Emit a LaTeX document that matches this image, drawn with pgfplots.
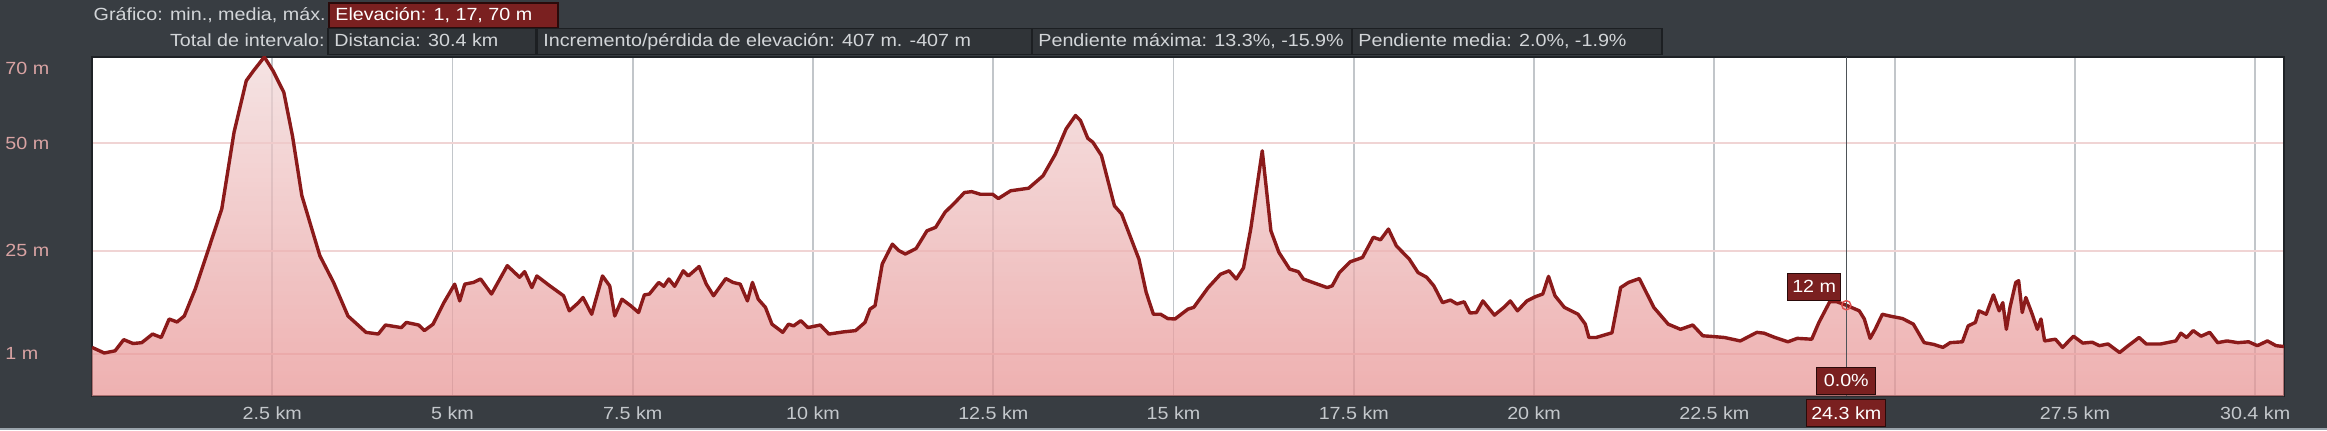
\documentclass[border=0pt]{standalone}
\usepackage{pgfplots}
\pgfplotsset{compat=1.18}
\usepackage{pgfplotstable}
\usepackage{fontspec}
\setmainfont{Liberation Sans}[FakeStretch=1.12]
\definecolor{bg}{HTML}{383D42}
\definecolor{hdrbox}{HTML}{303438}
\definecolor{hdrborder}{HTML}{1C1F22}
\definecolor{boxred}{HTML}{7A2020}
\definecolor{boxredborder}{HTML}{2A0A0A}
\definecolor{hdrtext}{HTML}{D2D5D8}
\definecolor{profline}{HTML}{8B1A1A}
\definecolor{filltop}{HTML}{F1D8D8}
\definecolor{fillbot}{HTML}{E89090}
\definecolor{hgrid}{HTML}{F0D4D4}
\definecolor{vgrid}{HTML}{C2C6CA}
\definecolor{ylab}{HTML}{D9A3A3}
\definecolor{xlab}{HTML}{C4C8CC}
\definecolor{axisborder}{HTML}{1E2226}
\definecolor{markline}{HTML}{4E5358}
\definecolor{markred}{HTML}{E05050}
\definecolor{bottomstrip}{HTML}{9AA4AC}

\pgfplotstableread{
x y
0 -8.8
0 2.5
0.17 1.2
0.32 1.7
0.44 4.3
0.57 3.4
0.69 3.6
0.84 5.6
0.96 4.8
1.07 9.1
1.18 8.4
1.28 9.8
1.43 16.0
1.57 23.0
1.80 34.7
1.97 52.5
2.14 64.5
2.24 66.8
2.39 70
2.51 66.8
2.66 61.8
2.78 51.7
2.91 37.8
3.16 23.8
3.35 17.6
3.55 9.8
3.80 6.0
3.97 5.6
4.07 7.7
4.29 7.1
4.36 8.3
4.53 7.7
4.61 6.4
4.73 7.9
4.88 12.9
5.03 17.2
5.10 13.3
5.17 17.2
5.29 17.6
5.39 18.4
5.54 14.9
5.76 21.5
5.93 18.8
6.00 20.1
6.10 16.4
6.17 19.1
6.35 16.8
6.54 14.5
6.62 11.0
6.74 12.8
6.81 14.1
6.93 10.2
7.08 19.1
7.18 16.8
7.25 9.8
7.35 13.7
7.47 12.2
7.58 10.6
7.66 14.7
7.73 14.9
7.86 17.6
7.93 16.7
8.00 18.4
8.08 16.7
8.20 20.3
8.27 19.1
8.42 21.3
8.52 17.2
8.62 14.5
8.79 18.5
8.89 17.6
8.99 17.2
9.09 13.3
9.16 17.6
9.24 13.7
9.34 11.8
9.43 7.9
9.58 6.0
9.66 7.9
9.73 7.5
9.83 8.7
9.93 7.1
10.10 7.7
10.22 5.6
10.42 6.1
10.59 6.4
10.72 8.3
10.79 11.4
10.86 12.2
10.96 21.9
11.10 26.5
11.19 25.0
11.28 24.2
11.43 25.5
11.58 29.6
11.70 30.4
11.83 33.9
11.97 36.2
12.10 38.5
12.20 38.7
12.32 38.1
12.49 38.1
12.57 37.1
12.74 38.9
12.99 39.5
13.19 42.4
13.36 47.4
13.51 53.3
13.64 56.4
13.71 55.2
13.81 51.1
13.88 50.2
14.00 47.1
14.18 35.4
14.28 33.5
14.52 23.0
14.62 15.3
14.72 10.2
14.82 10.2
14.92 9.2
15.02 9.1
15.20 11.4
15.28 11.8
15.48 16.4
15.65 19.5
15.77 20.3
15.87 18.4
15.97 21.0
16.07 30.0
16.23 48.2
16.35 29.6
16.46 24.6
16.61 20.7
16.73 20.1
16.80 18.4
16.93 17.6
17.13 16.4
17.20 16.8
17.30 19.9
17.45 22.4
17.62 23.4
17.77 28.1
17.87 27.5
17.98 30.0
18.09 26.1
18.27 23.0
18.39 19.9
18.51 18.8
18.61 16.8
18.73 12.9
18.84 13.5
18.93 12.6
19.03 13.1
19.11 10.5
19.20 10.6
19.29 13.3
19.45 10.0
19.58 11.8
19.67 13.3
19.77 11.0
19.90 13.3
20.02 14.3
20.12 14.9
20.20 19.0
20.29 14.5
20.42 11.8
20.61 10.2
20.71 7.9
20.76 4.8
20.86 4.8
20.96 5.3
21.08 5.9
21.20 16.4
21.31 17.6
21.46 18.5
21.66 11.8
21.86 7.9
22.03 6.7
22.20 7.7
22.34 5.2
22.50 5.0
22.64 4.8
22.86 4.0
23.09 6.0
23.19 5.8
23.34 4.8
23.52 3.8
23.65 4.6
23.85 4.4
23.95 8.3
24.10 13.1
24.20 13.1
24.33 12.3
24.51 11.0
24.58 9.1
24.66 4.6
24.73 6.7
24.83 10.2
24.93 9.8
25.11 9.2
25.26 7.9
25.41 3.6
25.54 3.2
25.67 2.5
25.77 3.6
25.94 3.8
26.02 7.5
26.12 8.3
26.17 11.0
26.27 10.2
26.37 14.7
26.45 11.0
26.50 12.9
26.55 6.7
26.60 11.8
26.68 17.6
26.72 18.0
26.77 10.6
26.82 14.1
26.90 10.6
26.98 6.7
27.03 9.1
27.08 4.0
27.23 4.4
27.33 2.5
27.48 5.1
27.61 3.5
27.74 3.7
27.84 2.9
27.96 3.3
28.12 1.3
28.24 2.9
28.39 4.8
28.49 3.3
28.69 3.3
28.90 4.0
28.97 5.8
29.05 4.8
29.14 6.4
29.25 5.1
29.37 6.0
29.48 3.6
29.61 4.0
29.76 3.6
29.91 3.8
30.03 2.9
30.17 4.0
30.29 2.9
30.40 2.7
30.40 -8.8
}\profile

\newcommand{\hfont}{\fontsize{8.8}{10}\selectfont}

\begin{document}
\begin{tikzpicture}
\useasboundingbox (0pt,0pt) rectangle (1163.5pt,215pt);
\fill[bg] (0pt,0pt) rectangle (1163.5pt,215pt);
\fill[bottomstrip] (0pt,0pt) rectangle (1163.5pt,1.2pt);

% header row 1
\node[anchor=mid east, text=hdrtext, inner sep=0pt, font=\hfont] at (163pt,207.2pt) {Gráfico: min., media, máx.};
\draw[fill=boxred, draw=boxredborder, line width=0.6pt] (164.5pt,201.3pt) rectangle (279pt,213.5pt);
\node[anchor=mid west, text=white, inner sep=0pt, font=\hfont] at (167.5pt,207.2pt) {Elevación: 1, 17, 70 m};

% header row 2
\node[anchor=mid east, text=hdrtext, inner sep=0pt, font=\hfont] at (162.5pt,194.3pt) {Total de intervalo:};
\draw[fill=hdrbox, draw=hdrborder, line width=0.8pt] (164pt,187.8pt) rectangle (268pt,200.8pt);
\draw[fill=hdrbox, draw=hdrborder, line width=0.8pt] (268.5pt,187.8pt) rectangle (516pt,200.8pt);
\draw[fill=hdrbox, draw=hdrborder, line width=0.8pt] (516pt,187.8pt) rectangle (676pt,200.8pt);
\draw[fill=hdrbox, draw=hdrborder, line width=0.8pt] (676pt,187.8pt) rectangle (831pt,200.8pt);
\node[anchor=mid west, text=hdrtext, inner sep=0pt, font=\hfont] at (167pt,194.3pt) {Distancia: 30.4 km};
\node[anchor=mid west, text=hdrtext, inner sep=0pt, font=\hfont] at (271.5pt,194.3pt) {Incremento/pérdida de elevación: 407 m. -407 m};
\node[anchor=mid west, text=hdrtext, inner sep=0pt, font=\hfont] at (519pt,194.3pt) {Pendiente máxima: 13.3\%, -15.9\%};
\node[anchor=mid west, text=hdrtext, inner sep=0pt, font=\hfont] at (679pt,194.3pt) {Pendiente media: 2.0\%, -1.9\%};

\begin{axis}[
  at={(46pt,17pt)}, anchor=south west,
  scale only axis, width=1096pt, height=169.5pt,
  xmin=0, xmax=30.4, ymin=-8.8, ymax=70,
  clip mode=individual,
  axis background/.style={fill=white},
  axis line style={draw=axisborder, line width=1.1pt},
  major tick length=0pt,
  xtick={2.5,5,7.5,10,12.5,15,17.5,20,22.5,25,27.5,30},
  xticklabels={2.5 km,5 km,7.5 km,10 km,12.5 km,15 km,17.5 km,20 km,22.5 km,{},27.5 km,30.4 km},
  ytick={1,25,50},
  yticklabels={1 m,25 m,50 m},
  extra y ticks={70},
  extra y tick labels={70 m},
  extra y tick style={yticklabel style={yshift=-5.5pt}, grid=none},
  xmajorgrids, ymajorgrids,
  x grid style={vgrid, line width=0.9pt},
  y grid style={hgrid, line width=1pt},
  ticklabel style={font=\hfont},
  xticklabel style={anchor=center, yshift=-8.5pt, text=xlab, inner sep=0pt},
  yticklabel style={anchor=west, xshift=-43.5pt, text=ylab, inner sep=0pt},
]
\addplot[draw=none, no marks, top color=filltop, bottom color=fillbot, fill opacity=0.7] table {\profile};
\addplot[profline, line width=1.7pt, no marks, line join=round, restrict y to domain=-5:80] table {\profile};
\draw[markline, line width=0.8pt] (axis cs:24.33,-8.8) -- (axis cs:24.33,70);
\addplot[only marks, mark=o, mark size=2.3pt, draw=markred, line width=0.7pt] coordinates {(24.33,12.3)};
\node[anchor=south east, fill=boxred, draw=boxredborder, line width=0.6pt, text=white, inner sep=0pt, minimum width=26.5pt, minimum height=13.5pt, font=\hfont] at (axis cs:24.26,13.3) {12 m};
\node[anchor=south, fill=boxred, draw=boxredborder, line width=0.6pt, text=white, inner sep=0pt, minimum width=29.5pt, minimum height=13.5pt, font=\hfont, yshift=0.6pt] at (axis cs:24.33,-8.8) {0.0\%};
\node[anchor=center, fill=boxred, draw=boxredborder, line width=0.6pt, text=white, inner sep=0pt, minimum width=39.5pt, minimum height=13.5pt, font=\hfont, yshift=-8.5pt] at (axis cs:24.33,-8.8) {24.3 km};
\end{axis}
\end{tikzpicture}
\end{document}
